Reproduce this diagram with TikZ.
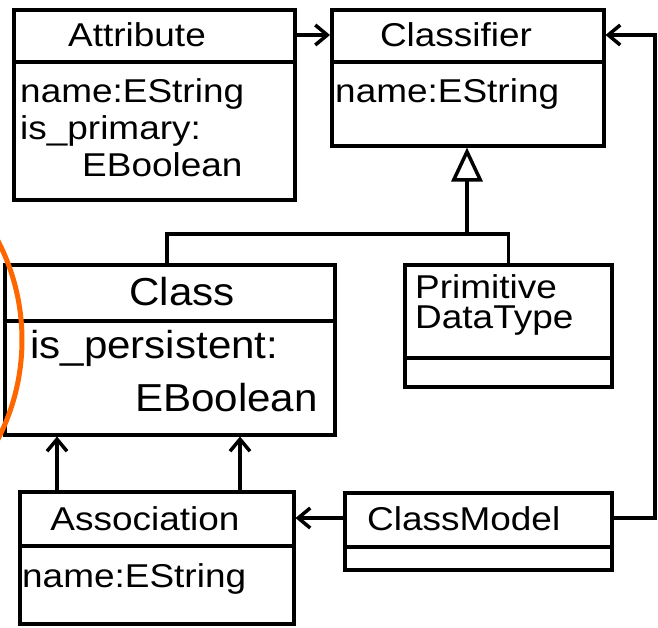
\documentclass[tikz,border=0pt]{standalone}
\usepackage{fontspec}
\setmainfont{Liberation Sans}
\newfontfamily\umlfont[FakeStretch=1.12]{Liberation Sans}
\newfontfamily\umlbigfont[FakeStretch=1.08]{Liberation Sans}
\usetikzlibrary{arrows.meta,calc}

\begin{document}
\begin{tikzpicture}[x=1pt,y=-1pt,
  umlbox/.style={draw, line width=3.5pt, inner sep=0pt, anchor=north west, fill=white},
  divider/.style={line width=3.5pt},
  lbl/.style={inner sep=0pt, font=\umlfont\fontsize{33}{37}\selectfont},
  biglbl/.style={inner sep=0pt, font=\umlbigfont\fontsize{39}{44}\selectfont},
  wire/.style={line width=3.5pt},
  link/.style={wire, -{Straight Barb[length=12pt,width=20pt,line width=3.5pt]}},
  inherit/.style={wire, -{Triangle[open,length=34pt,width=31pt,line width=3.5pt]}},
  highlight/.style={line width=5pt, draw={rgb,255:red,255;green,102;blue,0}}]

\useasboundingbox (0,0) rectangle (658,627);

% class boxes
\node[umlbox, minimum width=281pt, minimum height=190pt] (attr)  at (12,8)   {};
\node[umlbox, minimum width=272pt, minimum height=136pt] (clsf)  at (330,8)  {};
\node[umlbox, minimum width=330pt, minimum height=170pt] (cls)   at (3,263)  {};
\node[umlbox, minimum width=207pt, minimum height=122pt] (pdt)   at (403,263) {};
\node[umlbox, minimum width=274pt, minimum height=132pt] (assoc) at (18,490) {};
\node[umlbox, minimum width=267pt, minimum height=77pt]  (cm)    at (343,491) {};

% compartment dividers
\draw[divider] (attr.west |- 0,62)   -- (attr.east |- 0,62);
\draw[divider] (clsf.west |- 0,62)   -- (clsf.east |- 0,62);
\draw[divider] (cls.west |- 0,321)   -- (cls.east |- 0,321);
\draw[divider] (pdt.west |- 0,358)   -- (pdt.east |- 0,358);
\draw[divider] (assoc.west |- 0,546) -- (assoc.east |- 0,546);
\draw[divider] (cm.west |- 0,547)    -- (cm.east |- 0,547);

% names
\node[lbl, anchor=base] (attrN)  at (137,46) {Attribute};
\node[lbl, anchor=base] (clsfN)  at (456,46) {Classifier};
\node[biglbl, anchor=base] (clsN) at (182,305) {Class};
\node[lbl, anchor=base west] (pdtN1) at (415,298) {Primitive};
\node[lbl, anchor=base west] (pdtN2) at (415,328) {DataType};
\node[lbl, anchor=base] (assocN) at (145,530) {Association};
\node[lbl, anchor=base west] (cmN) at (367,530) {ClassModel};

% attributes
\node[lbl, anchor=base west] (attrA1) at (20,102) {name:EString};
\node[lbl, anchor=base west] (attrA2) at (20,139) {is\_primary:};
\node[lbl, anchor=base west] (attrA3) at (82,176) {EBoolean};
\node[lbl, anchor=base west] (clsfA1) at (335,102) {name:EString};
\node[biglbl, anchor=base west] (clsA1) at (30,358) {is\_persistent:};
\node[biglbl, anchor=base east] (clsA2) at (318,411) {EBoolean};
\node[lbl, anchor=base west] (assocA1) at (22,587) {name:EString};

% generalization
\coordinate (gj) at (467,234);
\draw[inherit] (gj) -- (clsf.south -| gj);
\draw[wire] (cls.north -| 167,0) |- (gj) -| (pdt.north);

% references
\draw[link] (attr.east |- 0,35) -- (clsf.west |- 0,35);
\draw[link] (cm.east |- 0,518) -- (655,518) -- (655,35) -- (clsf.east |- 0,35);
\draw[link] (cm.west |- 0,518) -- (assoc.east |- 0,518);
\draw[link] (assoc.north -| 57,0) -- (cls.south -| 57,0);
\draw[link] (assoc.north -| 240,0) -- (cls.south -| 240,0);

% highlight mark
\draw[highlight] (-194,340) circle[radius=216];
\end{tikzpicture}
\end{document}
